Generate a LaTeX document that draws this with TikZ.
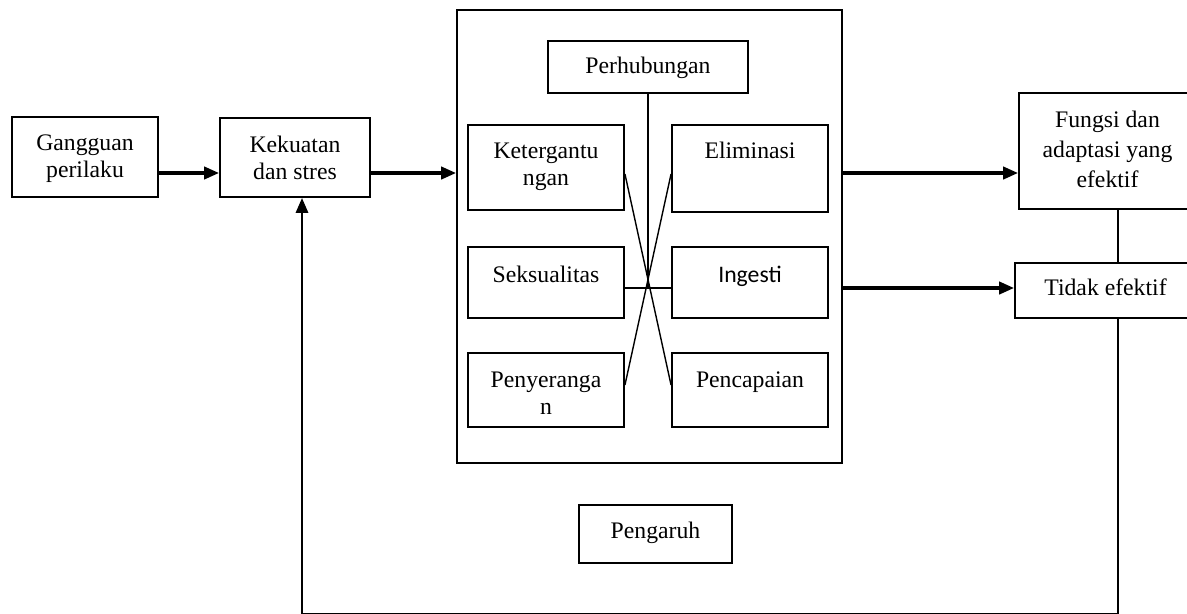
\documentclass[tikz,border=0pt]{standalone}
\usepackage{fontspec}
\setmainfont{Liberation Serif}
\newfontfamily\carlito{Carlito}
\usetikzlibrary{arrows.meta}
\tikzset{
	kotak/.style={draw, line width=1.1pt, inner sep=0pt, align=center, anchor=base, font=\fontsize{13.5}{15.8}\selectfont},
	panah/.style={line width=1.8pt, -{Triangle[length=8.5pt,width=7pt]}},
	tipis/.style={line width=0.8pt}
}
\begin{document}
\begin{tikzpicture}[x=0.02cm, y=-0.02cm]
	\useasboundingbox (0, 0) rectangle (1187, 613);
	\clip (0, 0) rectangle (1187, 613);
	\node[kotak, minimum width=2.92cm, text height=1.217cm, text depth=0.383cm] (gangguan) at (85, 177.9) {Gangguan\\perilaku};
	\node[kotak, minimum width=3.00cm, text height=1.237cm, text depth=0.343cm] (kekuatan) at (295, 179.9) {Kekuatan\\dan stres};
	\node[draw, line width=1.1pt, inner sep=0pt, minimum width=7.70cm, minimum height=9.06cm] (besar) at (649.5, 236.5) {};
	\node[kotak, minimum width=4.00cm, text height=0.64cm, text depth=0.40cm] (perhubungan) at (648, 73) {Perhubungan};
	\node[kotak, minimum width=3.12cm, text height=1.217cm, text depth=0.483cm] (ketergantungan) at (546, 185.9) {Ketergantu\\ngan};
	\node[kotak, minimum width=3.12cm, text height=0.66cm, text depth=1.08cm] (eliminasi) at (750, 158) {Eliminasi};
	\node[kotak, minimum width=3.12cm, text height=0.70cm, text depth=0.72cm] (seksualitas) at (546, 282) {Seksualitas};
	\node[kotak, minimum width=3.12cm, text height=0.70cm, text depth=0.72cm, font=\fontsize{13.5}{15.8}\carlito] (ingesti) at (750, 282) {Ingesti};
	\node[kotak, minimum width=3.12cm, text height=1.237cm, text depth=0.243cm] (penyerangan) at (546, 414.9) {Penyeranga\\n};
	\node[kotak, minimum width=3.12cm, text height=0.68cm, text depth=0.80cm] (pencapaian) at (750, 387) {Pencapaian};
	\node[kotak, minimum width=3.06cm, text height=0.66cm, text depth=0.50cm] (pengaruh) at (655.5, 538) {Pengaruh};
	\node[kotak, minimum width=3.54cm, text height=1.88cm, text depth=0.44cm, font=\fontsize{13.5}{17}\selectfont] (fungsi) at (1107.5, 187) {Fungsi dan\\adaptasi yang\\efektif};
	\node[kotak, minimum width=3.62cm, text height=0.64cm, text depth=0.46cm] (tidak) at (1105.5, 295) {Tidak efektif};

	\coordinate (jalur1) at (0, 173);
	\coordinate (jalur2) at (0, 288);
	\coordinate (silang) at (648, 288);
	\coordinate (atas) at (0, 174);
	\coordinate (bawah) at (0, 385);
	\coordinate (balik) at (1118, 613.8);
	\coordinate (kaki) at (302, 613.8);

	\draw[panah] (gangguan.east |- jalur1) -- (kekuatan.west |- jalur1);
	\draw[panah] (kekuatan.east |- jalur1) -- (besar.west |- jalur1);
	\draw[panah] (besar.east |- jalur1) -- (fungsi.west |- jalur1);
	\draw[panah] (besar.east |- jalur2) -- (tidak.west |- jalur2);
	\draw[tipis] (fungsi.south -| balik) -- (tidak.north -| balik);
	\draw[panah, line width=1.3pt] (tidak.south -| balik) -- (balik) -- (kaki) -- (kekuatan.south -| kaki);

	\draw[tipis] (perhubungan.south -| silang) -- (silang);
	\draw[tipis] (seksualitas.east |- silang) -- (ingesti.west |- silang);
	\draw[tipis] (ketergantungan.east |- atas) -- (pencapaian.west |- bawah);
	\draw[tipis] (eliminasi.west |- atas) -- (penyerangan.east |- bawah);
\end{tikzpicture}
\end{document}
